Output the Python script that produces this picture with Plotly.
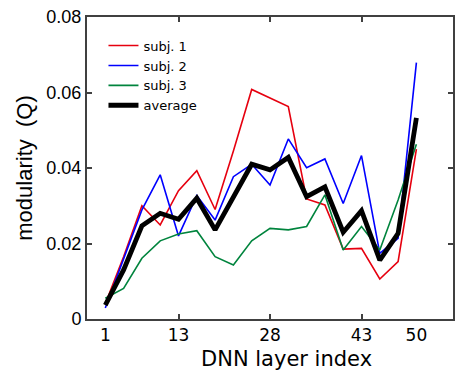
import plotly.graph_objects as go

layers = [1, 4, 7, 10, 13, 16, 19, 22, 25, 28, 31, 34, 37, 40, 43, 46, 49, 50]
tick_layers = [1, 13, 28, 43, 50]
minor_tick_layers = [13, 28, 43]

subj1 = [0.0040, 0.0165, 0.0300, 0.0249, 0.0340, 0.0393, 0.0290, 0.0445, 0.0608,
         0.0585, 0.0563, 0.0318, 0.0302, 0.0185, 0.0187, 0.0106, 0.0152, 0.0450]
subj2 = [0.0029, 0.0160, 0.0289, 0.0382, 0.0220, 0.0327, 0.0262, 0.0377, 0.0410,
         0.0355, 0.0477, 0.0401, 0.0424, 0.0306, 0.0433, 0.0174, 0.0214, 0.0679]
subj3 = [0.0055, 0.0081, 0.0161, 0.0207, 0.0225, 0.0234, 0.0165, 0.0143, 0.0207,
         0.0240, 0.0236, 0.0245, 0.0329, 0.0183, 0.0245, 0.0183, 0.0315, 0.0463]
average = [0.0037, 0.0130, 0.0247, 0.0280, 0.0264, 0.0320, 0.0236, 0.0324, 0.0410,
           0.0395, 0.0428, 0.0324, 0.0350, 0.0230, 0.0287, 0.0156, 0.0227, 0.0533]

y_ticks = [0, 0.02, 0.04, 0.06, 0.08]
y_ticktext = ["0", "0.02", "0.04", "0.06", "0.08"]

x_title = "DNN layer index"
y_title = "modularity  (Q)"

pos = list(range(len(layers)))

series = [
    ("subj. 1", subj1, "#e6000f", 1.6),
    ("subj. 2", subj2, "#0000ff", 1.6),
    ("subj. 3", subj3, "#00843d", 1.6),
    ("average", average, "#000000", 4.8),
]

fig = go.Figure()
for name, vals, color, w in series:
    fig.add_trace(go.Scatter(x=pos, y=vals, mode="lines", name=name,
                             line=dict(color=color, width=w)))
fig.add_trace(go.Scatter(x=[None], y=[None], xaxis="x2", showlegend=False, hoverinfo="skip"))

frame = "#404040"
minor_vals = [layers.index(t) for t in minor_tick_layers]
fig.update_layout(
    width=465, height=374,
    margin=dict(l=87, r=12, t=17, b=55),
    paper_bgcolor="white", plot_bgcolor="white",
    showlegend=True,
    legend=dict(x=0.045, y=0.955, xanchor="left", yanchor="top",
                bgcolor="rgba(0,0,0,0)", itemwidth=30, tracegroupgap=0,
                font=dict(family="DejaVu Sans", size=13, color="#000")),
    xaxis=dict(
        range=[-1, 19],
        tickmode="array",
        tickvals=[layers.index(t) for t in tick_layers],
        ticktext=[str(t) for t in tick_layers],
        ticks="inside", ticklen=5, tickwidth=1.5, tickcolor="rgba(0,0,0,0)",
        showgrid=False, zeroline=False, automargin=False,
        showline=True, linecolor=frame, linewidth=2, mirror=True,
        tickfont=dict(family="DejaVu Sans", size=17, color="#000"),
        minor=dict(tickmode="array", tickvals=minor_vals,
                   ticks="inside", ticklen=5, tickwidth=1.5, tickcolor=frame, showgrid=False),
    ),
    xaxis2=dict(overlaying="x", side="top", anchor="y", range=[-1, 19], tickmode="array",
                tickvals=minor_vals, ticktext=["" for _ in minor_vals],
                ticks="inside", ticklen=5, tickwidth=1.5, tickcolor=frame,
                showgrid=False, zeroline=False, showline=False, automargin=False),
    yaxis=dict(
        range=[0, 0.08],
        tickmode="array", tickvals=y_ticks, ticktext=y_ticktext,
        ticks="inside", ticklen=5, tickwidth=1.5, tickcolor=frame,
        showgrid=False, zeroline=False, automargin=False,
        showline=True, linecolor=frame, linewidth=2, mirror="ticks",
        tickfont=dict(family="Liberation Sans", size=18, color="#000"),
        title=dict(text=y_title, standoff=8,
                   font=dict(family="Liberation Sans", size=22, color="#000")),
    ),
    annotations=[dict(text=x_title, xref="paper", yref="paper", x=0.544, y=-0.086,
                      xanchor="center", yanchor="top", showarrow=False,
                      font=dict(family="DejaVu Sans", size=21, color="#000"))],
)

fig.write_html("out.html", config={"displayModeBar": False},
               post_script="document.body.style.margin='0';document.body.style.padding='0';")
